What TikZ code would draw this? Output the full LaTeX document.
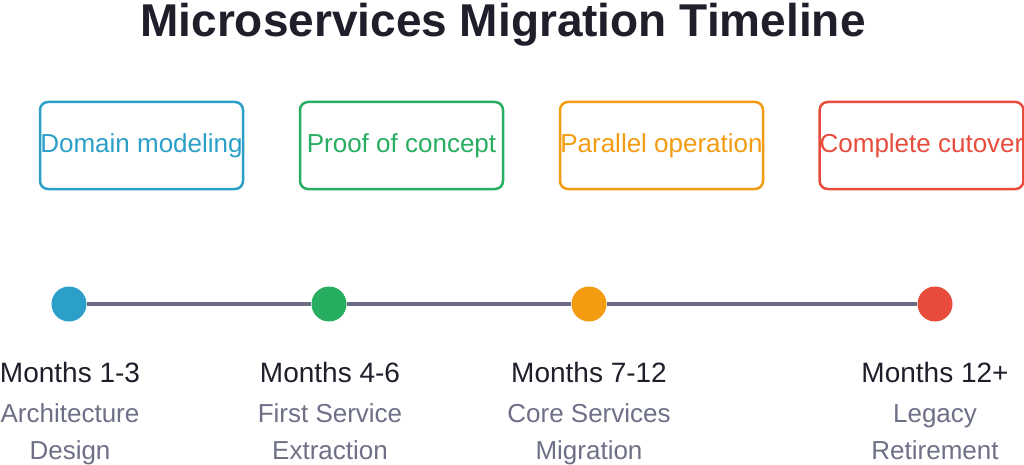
\documentclass[tikz,border=0pt]{standalone}
\usepackage{fontspec}
\setmainfont{Liberation Sans}
\definecolor{cblue}{HTML}{2C9FC9}
\definecolor{cgreen}{HTML}{27AE60}
\definecolor{corange}{HTML}{F39C12}
\definecolor{cred}{HTML}{E74C3C}
\definecolor{cline}{HTML}{6B6B85}
\definecolor{csub}{HTML}{6E7087}
\definecolor{cdark}{HTML}{1F1F2B}
\begin{document}
\begin{tikzpicture}[x=1pt,y=-1pt,
  phasebox/.style={draw=#1, text=#1, line width=2.5pt, rounded corners=8pt,
    minimum width=203pt, minimum height=87pt, inner sep=0pt,
    font=\fontsize{26}{30}\selectfont},
  dot/.style={circle, fill=#1, minimum size=35pt, inner sep=0pt},
  monthlbl/.style={anchor=base, text=cdark, inner sep=0pt, font=\fontsize{28}{32}\selectfont},
  sublbl/.style={anchor=base, text=csub, inner sep=0pt, align=center, font=\fontsize{26}{36.5}\selectfont},
  tline/.style={draw=cline, line width=4pt}
]
\useasboundingbox (0,0) rectangle (1024,465);
\fill[white] (0,0) rectangle (1024,465);

\node[anchor=base, text=cdark, inner sep=0pt, font=\fontsize{46}{50}\selectfont\bfseries] (title) at (503,37) {Microservices Migration Timeline};

\node[phasebox=cblue]   (b1) at (141.5,145.5) {Domain modeling};
\node[phasebox=cgreen]  (b2) at (401.5,145.5) {Proof of concept};
\node[phasebox=corange] (b3) at (661.5,145.5) {Parallel operation};
\node[phasebox=cred]    (b4) at (921.5,145.5) {Complete cutover};

\node[dot=cblue]   (d1) at (69,304) {};
\node[dot=cgreen]  (d2) at (329,304) {};
\node[dot=corange] (d3) at (589,304) {};
\node[dot=cred]    (d4) at (935,304) {};

\draw[tline] (d1) -- (d2);
\draw[tline] (d2) -- (d3);
\draw[tline] (d3) -- (d4);

\node[monthlbl] (m1) at (70,382) {Months 1-3};
\node[monthlbl] (m2) at (330,382) {Months 4-6};
\node[monthlbl] (m3) at (589,382) {Months 7-12};
\node[monthlbl] (m4) at (935,382) {Months 12+};

\node[sublbl] (s1) at (70,459) {Architecture\\Design};
\node[sublbl] (s2) at (330,459) {First Service\\Extraction};
\node[sublbl] (s3) at (589,459) {Core Services\\Migration};
\node[sublbl] (s4) at (935,459) {Legacy\\Retirement};
\end{tikzpicture}
\end{document}
